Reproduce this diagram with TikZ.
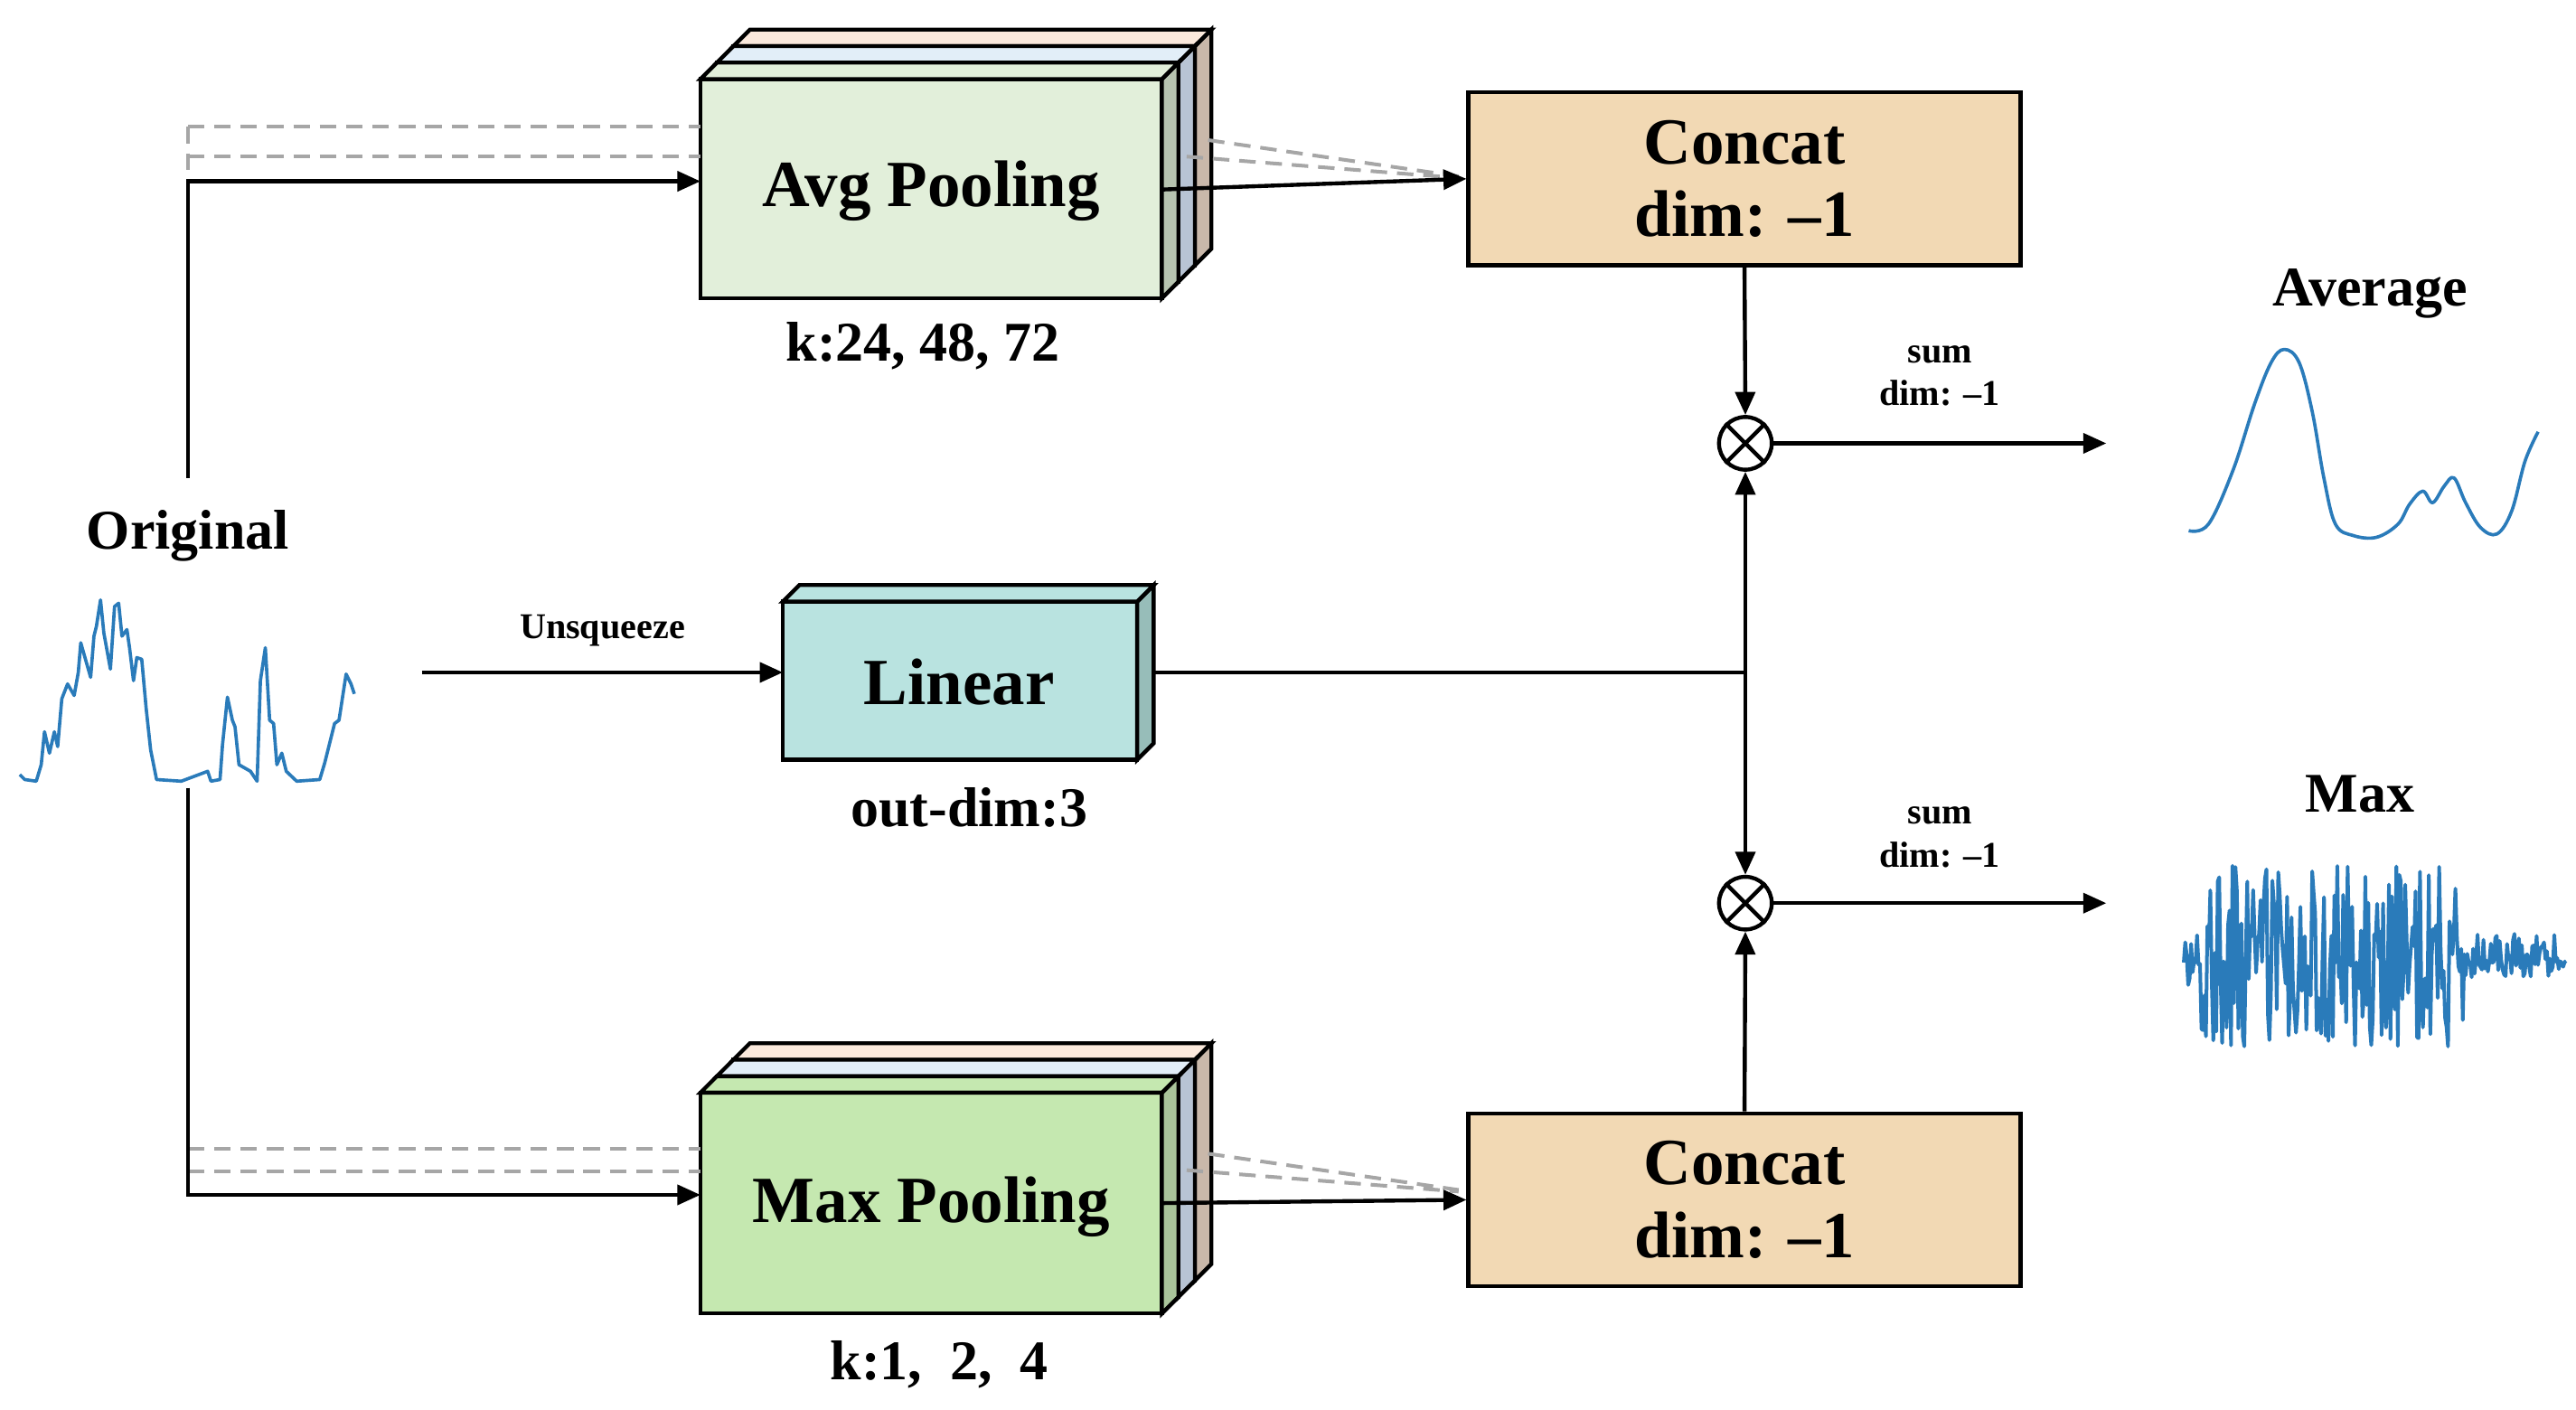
\documentclass[tikz,border=0pt]{standalone}
\usepackage{fontspec}
\setmainfont{Liberation Serif}
\usetikzlibrary{arrows.meta}
\definecolor{sig}{HTML}{2A7BBA}
\definecolor{gA}{HTML}{E2EFDA}\definecolor{gAs}{HTML}{B7C4B0}
\definecolor{gM}{HTML}{C5E8B0}\definecolor{gMs}{HTML}{A9C49A}
\definecolor{bL}{HTML}{E2EEF8}\definecolor{bLs}{HTML}{B8C4D4}
\definecolor{pL}{HTML}{FBE9DC}\definecolor{pLs}{HTML}{C9B8AA}
\definecolor{teal}{HTML}{B9E3E0}\definecolor{teals}{HTML}{97BDB9}
\definecolor{tan}{HTML}{F2D9B4}
\newcommand{\cubebox}[7]{%
 \filldraw[fill=#6,line width=1.2pt] (#1,#2) rectangle (#3,#4);
 \filldraw[fill=#7,line width=1.2pt] (#3,#2)--(#3+#5,#2-#5)--(#3+#5,#4-#5)--(#3,#4)--cycle;
 \filldraw[fill=#6,line width=1.2pt] (#1,#2)--(#1+#5,#2-#5)--(#3+#5,#2-#5)--(#3,#2)--cycle;}
\tikzset{
 ln/.style={line width=1.2pt},
 ar/.style={line width=1.2pt,-{Triangle[length=7pt,width=6pt]}},
 dsh/.style={line width=1.1pt,gray!70,dashed,dash pattern=on 5pt off 3pt},
 cc/.style={draw,line width=1.2pt,fill=tan,minimum width=167.5pt,minimum height=52.5pt,align=center,font=\bfseries\fontsize{20}{22}\selectfont,inner sep=0pt},
 mul/.style={circle,draw,line width=1.2pt,minimum size=16pt,inner sep=0pt,fill=white},
 lbl/.style={font=\bfseries\fontsize{17}{19}\selectfont},
 sm/.style={font=\bfseries\fontsize{11}{13}\selectfont,align=center},
 wave/.style={sig,line width=1pt,line join=round}
}
\begin{document}
\begin{tikzpicture}[x=0.5pt,y=-0.5pt]
\useasboundingbox (0,0) rectangle (1563,855);
% Original
\node[lbl] (orig) at (114,325) {Original};
\draw[wave] plot coordinates {(12,470)(15,473)(22,474)(25,464)(27,444)(30,457)(33,444)(35,453)(37.5,424)(41,415)(45,422)(47.5,408)(49,390)(53,404)(55,411)(57,386)(58.5,380)(61,364)(63,384)(67,406)(69.5,368)(72,366)(74,386)(77,382)(78.6,393)(81,413)(83,399)(86,400)(88.7,430)(91.4,455)(95,473)(110,474)(126,468)(128,474)(133.5,473)(135,452)(138,423)(141,437)(142.6,441)(145,464)(152,468)(156,474)(158,413)(161,393)(163.6,437)(166,439)(168,464)(171,457)(173.7,468)(180,474)(194,473)(197,463)(203,439)(205.7,437)(210,409)(213,415)(215,421)};
\coordinate (otop) at (114,290);
\coordinate (obot) at (114,478);
% Avg pooling
\cubebox{445}{28}{725}{161}{10}{pL}{pLs}
\cubebox{435}{38}{715}{171}{10}{bL}{bLs}
\cubebox{425}{48}{705}{181}{10}{gA}{gAs}
\node[font=\bfseries\fontsize{20}{22}\selectfont] (avg) at (565,116) {Avg Pooling};
\node[lbl] (avgk) at (560,210) {k:24, 48, 72};
\coordinate (avgin) at (425,110);
\coordinate (avgout) at (705,115);
% Max pooling
\cubebox{445}{643}{725}{777}{10}{pL}{pLs}
\cubebox{435}{653}{715}{787}{10}{bL}{bLs}
\cubebox{425}{663}{705}{797}{10}{gM}{gMs}
\node[font=\bfseries\fontsize{20}{22}\selectfont] (maxp) at (565,732) {Max Pooling};
\node[lbl] (maxk) at (570,828) {k:1,\ \ 2,\ \ 4};
\coordinate (maxin) at (425,725);
\coordinate (maxout) at (705,730);
% Linear
\cubebox{475}{365}{690}{461}{10}{teal}{teals}
\node[font=\bfseries\fontsize{20}{22}\selectfont] (lin) at (582,414) {Linear};
\node[lbl] (lind) at (588,490) {out-dim:3};
\coordinate (linin) at (475,408);
\coordinate (linout) at (700,408);
% Concat
\node[cc] (c1) at (1058.5,108.5) {Concat\\dim: --1};
\node[cc] (c2) at (1058.5,728) {Concat\\dim: --1};
\node[mul] (m1) at (1059,269) {};
\node[mul] (m2) at (1059,548) {};
\foreach \m in {m1,m2}{\draw[ln] (\m.north west)--(\m.south east) (\m.north east)--(\m.south west);}
% dashed lines
\draw[dsh] (114,77)--(425,77) (114,95)--(425,95) (114,77)--(114,110);
\draw[dsh] (114,697)--(425,697) (114,711)--(425,711);
\draw[dsh] (733,85)--(885,107) (720,95)--(885,108);
\draw[dsh] (733,700)--(885,722) (720,710)--(885,723);
% connectors
\draw[ar] (otop)--(114,110)--(avgin);
\draw[ar] (obot)--(114,725)--(maxin);
\draw[ar] (avgout)--(c1.west);
\draw[ar] (maxout)--(c2.west);
\coordinate (us) at (256,408);
\draw[ar] (us)--(linin) node[midway,above=4pt,sm]{Unsqueeze};
\coordinate (j) at (1059,408);
\draw[ln] (linout)--(j);
\draw[ar] (j)--(m1.south);
\draw[ar] (j)--(m2.north);
\draw[ar] (c1.south)--(m1.north);
\draw[ar] (c2.north)--(m2.south);
\coordinate (e1) at (1278,269);
\coordinate (e2) at (1278,548);
\draw[ar] (m1.east)--(e1);
\draw[ar] (m2.east)--(e2);
\node[sm] (s1) at (1177,228) {sum\\dim: --1};
\node[sm] (s2) at (1177,508) {sum\\dim: --1};
% outputs
\node[lbl] (avgl) at (1438,178) {Average};
\node[lbl] (maxl) at (1432,482) {Max};
\draw[wave] plot[smooth,tension=0.6] coordinates {(1328,322)(1340,318)(1355,285)(1368,245)(1378,220)(1386,212)(1395,220)(1403,250)(1410,290)(1417,318)(1428,325)(1442,326)(1455,318)(1462,306)(1470,298)(1476,305)(1483,295)(1489,290)(1496,305)(1505,320)(1515,324)(1524,310)(1532,280)(1540,262)};
\pgfmathsetseed{7}
\draw[wave,line width=1.1pt] plot[domain=1325:1557,samples=260] (\x,{580+(\x<1335?18:(\x<1495?55:14))*rand});
\end{tikzpicture}
\end{document}
